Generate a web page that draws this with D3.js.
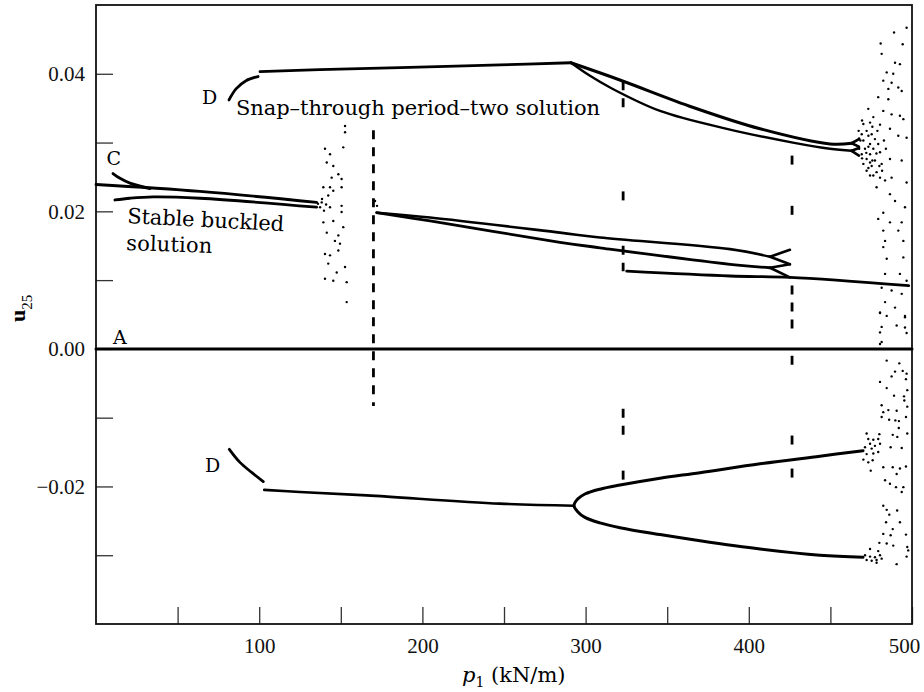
<!DOCTYPE html>
<html><head><meta charset="utf-8">
<script src="https://cdn.jsdelivr.net/npm/d3@7/dist/d3.min.js"></script>
<style>body{margin:0;background:#fff}svg{display:block}</style>
</head><body><svg id="c" width="924" height="692"></svg>
<script>
// ---------- data (p1 in kN/m, u25) ----------
const xTicks = [50,100,150,200,250,300,350,400,450,500];
const xTickLabels = ["","100","","200","","300","","400","","500"];
const yTicks = [-0.03,-0.02,-0.01,0,0.01,0.02,0.03,0.04];
const yTickLabels = ["","\u22120.02","","0.00","","0.02","","0.04"];

// branch A (trivial solution)
const aP = [0, 500];
const aU = [0, 0];
// upper snap-through branch D
const snapArcP = [81.5, 85.8, 91.9, 99.3];
const snapArcU = [0.0362, 0.0378, 0.0390, 0.0396];
const snapLineP = [100.5, 137, 186.3, 247.5, 291];
const snapLineU = [0.0403, 0.0406, 0.0409, 0.0413, 0.0416];
const snapUpperP = [291, 321, 366, 406.9, 449.8, 463];
const snapUpperU = [0.0416, 0.0391, 0.0351, 0.0320, 0.0298, 0.0299];
const snapLowerP = [291, 302.7, 315, 345.6, 386.5, 427, 449.8, 463];
const snapLowerU = [0.0416, 0.0397, 0.0380, 0.0346, 0.0320, 0.0300, 0.0291, 0.0288];
// branch C and stable buckled solution
const cArcP = [10.4, 14.7, 20.8, 33.1];
const cArcU = [0.0255, 0.0248, 0.0241, 0.0233];
const cUpperP = [0, 63.7, 135.2];
const cUpperU = [0.0239, 0.0229, 0.0213];
const stableP = [11.6, 20.8, 35, 63.7, 135.2];
const stableU = [0.02165, 0.0219, 0.0221, 0.0219, 0.0206];
// middle branches after p1 = 170
const midUpperP = [172, 204.7, 284.3, 308.8, 388.5, 413];
const midUpperU = [0.0198, 0.0191, 0.0169, 0.0162, 0.0145, 0.0134];
const midLowerP = [172, 204.7, 284.3, 308.8, 388.5, 413];
const midLowerU = [0.0198, 0.0186, 0.0155, 0.0147, 0.0123, 0.0118];
const midBottomP = [325.2, 388.5, 425.2, 498];
const midBottomU = [0.0113, 0.0106, 0.0104, 0.0092];
// lower snap-through branch D
const lowArcP = [81.7, 88.2, 95.6, 102.5];
const lowArcU = [-0.0146, -0.0165, -0.0180, -0.0193];
const lowLineP = [103.1, 125, 165.9, 247.5, 292.9];
const lowLineU = [-0.0205, -0.0208, -0.0213, -0.0225, -0.0228];
const lowUpperP = [292.9, 295.3, 299.6, 308.8, 321.1, 345.6, 370.1, 406.9, 443.6, 470];
const lowUpperU = [-0.0228, -0.0218, -0.0211, -0.0204, -0.0198, -0.0188, -0.0180, -0.0167, -0.0156, -0.0148];
const lowLowerP = [292.9, 295.3, 299.6, 308.8, 321.1, 345.6, 370.1, 406.9, 443.6, 470];
const lowLowerU = [-0.0228, -0.0237, -0.0245, -0.0253, -0.0260, -0.0270, -0.0279, -0.0291, -0.0300, -0.0303];
// small forks (segments)
const forkP0 = [463, 463, 463, 463, 413, 413, 413, 413];
const forkU0 = [0.0299, 0.0299, 0.0288, 0.0288, 0.0134, 0.0134, 0.0118, 0.0118];
const forkP1 = [467.5, 467.5, 467.5, 467.5, 425.2, 425.2, 425.2, 425.2];
const forkU1 = [0.0305, 0.0294, 0.0292, 0.0281, 0.0144, 0.0123, 0.0123, 0.0104];
// dashed jump lines
const dashP  = [170, 323, 323, 323, 323, 323, 426.5, 426.5, 426.5, 426.5, 426.5, 426.5];
const dashU0 = [0.0318, 0.0389, 0.0229, 0.0150, -0.0087, -0.0177, 0.0281, 0.0208, 0.0092, -0.0010, -0.0126, -0.0174];
const dashU1 = [-0.0083, 0.0340, 0.0215, 0.0113, -0.0131, -0.0198, 0.0262, 0.0193, 0.0019, -0.0031, -0.0148, -0.0194];
// chaotic responses (scattered points)
const chaosP = [152.6,152.6,151.5,140.3,143.4,141.4,145.4,148.5,144.4,150.5,139.3,143.4,145.4,150.5,142.3,138.3,137.3,143.4,150.5,150.5,139.3,145.4,151.5,141.4,148.5,146.4,149.5,140.3,143.4,148.5,142.3,147.5,152.6,140.3,145.4,153.6,153.6,136,138.5,141,139.7,171,172.2,
496.7,489.0,480.8,494.3,481.4,489.6,492.6,484.5,488.5,482.4,487.5,491.6,485.5,493.7,479.3,485.5,473.2,482.4,487.5,492.6,476.3,494.7,470.2,474.3,480.4,486.5,491.6,496.7,472.2,469.2,475.3,477.3,470.2,474.3,479.3,471.2,476.3,469.2,474.3,480.4,472.2,477.3,470.2,475.3,481.4,472.2,478.3,486.5,493.7,474.3,480.4,483.5,487.5,478.3,496.7,486.5,489.6,495.7,482.4,479.3,493.7,486.5,482.4,491.6,494.7,483.5,482.4,494.7,484.5,483.5,492.6,496.7,481.4,487.5,493.7,483.5,489.6,480.4,495.7,
467.3,468.4,473.3,475.7,478.8,467.6,473.3,478.2,469.4,475.7,480,473.3,476.3,469.4,482.8,484,467.6,472,474.3,481.7,
480.4,484.5,495.7,490.6,481.4,495.7,480.4,496.7,481.4,480.4,484.5,492.2,489.6,494.3,496.7,487.5,480.4,496.3,484.5,497.1,489.0,495.1,495.3,481.4,497.1,485.5,490.6,482.4,496.3,481.4,486.0,489.8,492.0,491.9,472.2,480.0,488.2,497.1,491.0,473.2,476.3,479.3,474.3,477.3,480.4,471.2,475.3,486.9,493.7,472.2,476.3,479.3,470.2,473.2,475.9,482.4,488.2,492.6,496.3,474.7,490.6,483.5,486.5,490.2,494.7,493.7,482.4,484.5,490.9,486.1,484.1,492.6,488.2,482.4,486.9,496.3,480.0,484.5,488.5,497.1,497.7,471.2,474.3,477.3,480.4,472.2,475.3,478.3,481.4,474.3,479.3,496.7,490.6,478.3];
const chaosU = [0.0324,0.0315,0.0293,0.0291,0.0283,0.0271,0.0266,0.0254,0.0249,0.0247,0.0235,0.0235,0.0230,0.0235,0.0223,0.0213,0.0206,0.0206,0.0208,0.0199,0.0184,0.0186,0.0177,0.0169,0.0165,0.0157,0.0153,0.0138,0.0136,0.0143,0.0124,0.0111,0.0119,0.0102,0.0099,0.0097,0.0068,0.0211,0.0218,0.0210,0.0201,0.0215,0.0208,
0.0467,0.0460,0.0444,0.0443,0.0429,0.0416,0.0414,0.0402,0.0400,0.0390,0.0387,0.0380,0.0378,0.0375,0.0366,0.0363,0.0349,0.0346,0.0341,0.0339,0.0337,0.0334,0.0327,0.0329,0.0326,0.0320,0.0310,0.0307,0.0317,0.0312,0.0312,0.0305,0.0303,0.0298,0.0298,0.0291,0.0291,0.0283,0.0283,0.0286,0.0276,0.0274,0.0269,0.0266,0.0269,0.0259,0.0257,0.0276,0.0274,0.0252,0.0249,0.0245,0.0249,0.0235,0.0242,0.0225,0.0215,0.0206,0.0198,0.0189,0.0184,0.0184,0.0172,0.0172,0.0157,0.0157,0.0148,0.0133,0.0131,0.0109,0.0109,0.0099,0.0089,0.0085,0.0080,0.0068,0.0060,0.0053,0.0048,
0.0317,0.0303,0.0310,0.0323,0.0317,0.0291,0.0294,0.0284,0.0277,0.0274,0.0266,0.0263,0.0252,0.0332,0.0303,0.0291,0.0306,0.0285,0.0271,0.0259,
0.0052,0.0048,0.0046,0.0034,0.0032,0.0031,0.0024,0.0023,0.0010,0.0007,-0.0017,-0.0021,-0.0033,-0.0032,-0.0036,-0.0040,-0.0048,-0.0044,-0.0057,-0.0060,-0.0068,-0.0069,-0.0075,-0.0082,-0.0084,-0.0089,-0.0090,-0.0092,-0.0099,-0.0099,-0.0103,-0.0104,-0.0105,-0.0115,-0.0123,-0.0124,-0.0125,-0.0123,-0.0128,-0.0131,-0.0132,-0.0131,-0.0138,-0.0141,-0.0138,-0.0143,-0.0145,-0.0143,-0.0144,-0.0153,-0.0152,-0.0150,-0.0161,-0.0165,-0.0162,-0.0172,-0.0172,-0.0174,-0.0171,-0.0177,-0.0182,-0.0191,-0.0196,-0.0201,-0.0201,-0.0208,-0.0228,-0.0234,-0.0235,-0.0241,-0.0252,-0.0252,-0.0262,-0.0269,-0.0271,-0.0270,-0.0282,-0.0283,-0.0286,-0.0288,-0.0293,-0.0300,-0.0302,-0.0303,-0.0300,-0.0307,-0.0308,-0.0307,-0.0305,-0.0291,-0.0294,-0.0302,-0.0313,-0.0311];

// ---------- drawing ----------
const svg = d3.select("#c");
const x = d3.scaleLinear().domain([0, 500]).range([96, 912]);
const y = d3.scaleLinear().domain([-0.04, 0.05]).range([624, 5]);
const zip = (a, b) => a.map((v, i) => [v, b[i]]);
const line = d3.line().x(d => x(d[0])).y(d => y(d[1])).curve(d3.curveCatmullRom.alpha(0.5));

// axes
const yAxis = d3.axisLeft(y).tickValues(yTicks).tickSize(-17).tickPadding(11)
  .tickFormat((d, i) => yTickLabels[i]);
const xAxis = d3.axisBottom(x).tickValues(xTicks).tickSize(-17).tickPadding(14)
  .tickFormat((d, i) => xTickLabels[i]);
const gy = svg.append("g").attr("transform", `translate(${x(0)},0)`).call(yAxis);
const gx = svg.append("g").attr("transform", `translate(0,${y(-0.04)})`).call(xAxis);
[gx, gy].forEach(g => {
  g.attr("font-family", "'Liberation Serif', 'Times New Roman', serif").attr("font-size", 21);
  g.select(".domain").remove();
  g.selectAll(".tick line").attr("stroke", "#333").attr("stroke-width", 1.3);
  g.selectAll(".tick text").attr("fill", "#111")
    .style("font-family", "'Liberation Serif', 'Times New Roman', serif").style("font-size", "21px");
});
gx.selectAll(".tick text").filter((d, i) => i === xTicks.length - 1).attr("dx", -8);

// frame
svg.append("rect").attr("x", x(0)).attr("y", y(0.05))
  .attr("width", x(500) - x(0)).attr("height", y(-0.04) - y(0.05))
  .attr("fill", "none").attr("stroke", "#111").attr("stroke-width", 1.8);

// curves
const curves = [
  [aP, aU, 3],
  [snapArcP, snapArcU, 2.8], [snapLineP, snapLineU, 2.8],
  [snapUpperP, snapUpperU, 3], [snapLowerP, snapLowerU, 2.4],
  [cArcP, cArcU, 2.8], [cUpperP, cUpperU, 2.8], [stableP, stableU, 2.8],
  [midUpperP, midUpperU, 2.6], [midLowerP, midLowerU, 2.8], [midBottomP, midBottomU, 2.8],
  [lowArcP, lowArcU, 2.8], [lowLineP, lowLineU, 2.6],
  [lowLowerP.slice().reverse().concat(lowUpperP.slice(1)),
   lowLowerU.slice().reverse().concat(lowUpperU.slice(1)), 3]
];
svg.append("g").selectAll("path").data(curves).join("path")
  .attr("d", d => line(zip(d[0], d[1])))
  .attr("fill", "none").attr("stroke", "#000")
  .attr("stroke-width", d => d[2]).attr("stroke-linecap", "round");

// forks
svg.append("g").selectAll("line").data(forkP0).join("line")
  .attr("x1", (d, i) => x(forkP0[i])).attr("y1", (d, i) => y(forkU0[i]))
  .attr("x2", (d, i) => x(forkP1[i])).attr("y2", (d, i) => y(forkU1[i]))
  .attr("stroke", "#000").attr("stroke-width", 2.6).attr("stroke-linecap", "round");

// dashed jumps
svg.append("g").selectAll("line").data(dashP).join("line")
  .attr("x1", (d, i) => x(dashP[i])).attr("x2", (d, i) => x(dashP[i]))
  .attr("y1", (d, i) => y(dashU0[i])).attr("y2", (d, i) => y(dashU1[i]))
  .attr("stroke", "#000").attr("stroke-width", 2.8).attr("stroke-dasharray", "9,8");

// chaotic points
svg.append("g").selectAll("circle").data(chaosP).join("circle")
  .attr("cx", (d, i) => x(chaosP[i])).attr("cy", (d, i) => y(chaosU[i]))
  .attr("r", 1.2).attr("fill", "#000");

// annotations
const ann = svg.append("g").style("font-family", "'DejaVu Serif', serif").attr("fill", "#000");
ann.append("text").attr("x", 202).attr("y", 103.5).style("font-size", "19px").text("D");
ann.append("text").attr("x", 236).attr("y", 115).style("font-size", "21px")
  .attr("textLength", 364).attr("lengthAdjust", "spacing").text("Snap\u2013through period\u2013two solution");
ann.append("text").attr("x", 106.5).attr("y", 165).style("font-size", "19px").text("C");
ann.append("text").attr("transform", "translate(127,223) rotate(3)").style("font-size", "21px")
  .attr("textLength", 157).attr("lengthAdjust", "spacing").text("Stable buckled");
ann.append("text").attr("transform", "translate(126,250) rotate(2)").style("font-size", "21px")
  .attr("textLength", 86).attr("lengthAdjust", "spacing").text("solution");
ann.append("text").attr("x", 113).attr("y", 344).style("font-size", "19px").text("A");
ann.append("text").attr("x", 205).attr("y", 472).style("font-size", "19px").text("D");

// axis titles
const xt = svg.append("text").attr("x", 462).attr("y", 682)
  .style("font-family", "'DejaVu Serif', serif").style("font-size", "21px");
xt.append("tspan").style("font-style", "italic").text("p");
xt.append("tspan").attr("dy", 5).style("font-size", "14px").text("1");
xt.append("tspan").attr("dy", -5).text(" (kN/m)");

const yt = svg.append("text").attr("transform", "translate(25,322) rotate(-90)")
  .style("font-family", "'Liberation Serif', serif");
yt.append("tspan").style("font-size", "22px").style("font-weight", "bold").text("u");
yt.append("tspan").attr("dy", 7).style("font-size", "15px").text("25");
</script>
</body></html>
